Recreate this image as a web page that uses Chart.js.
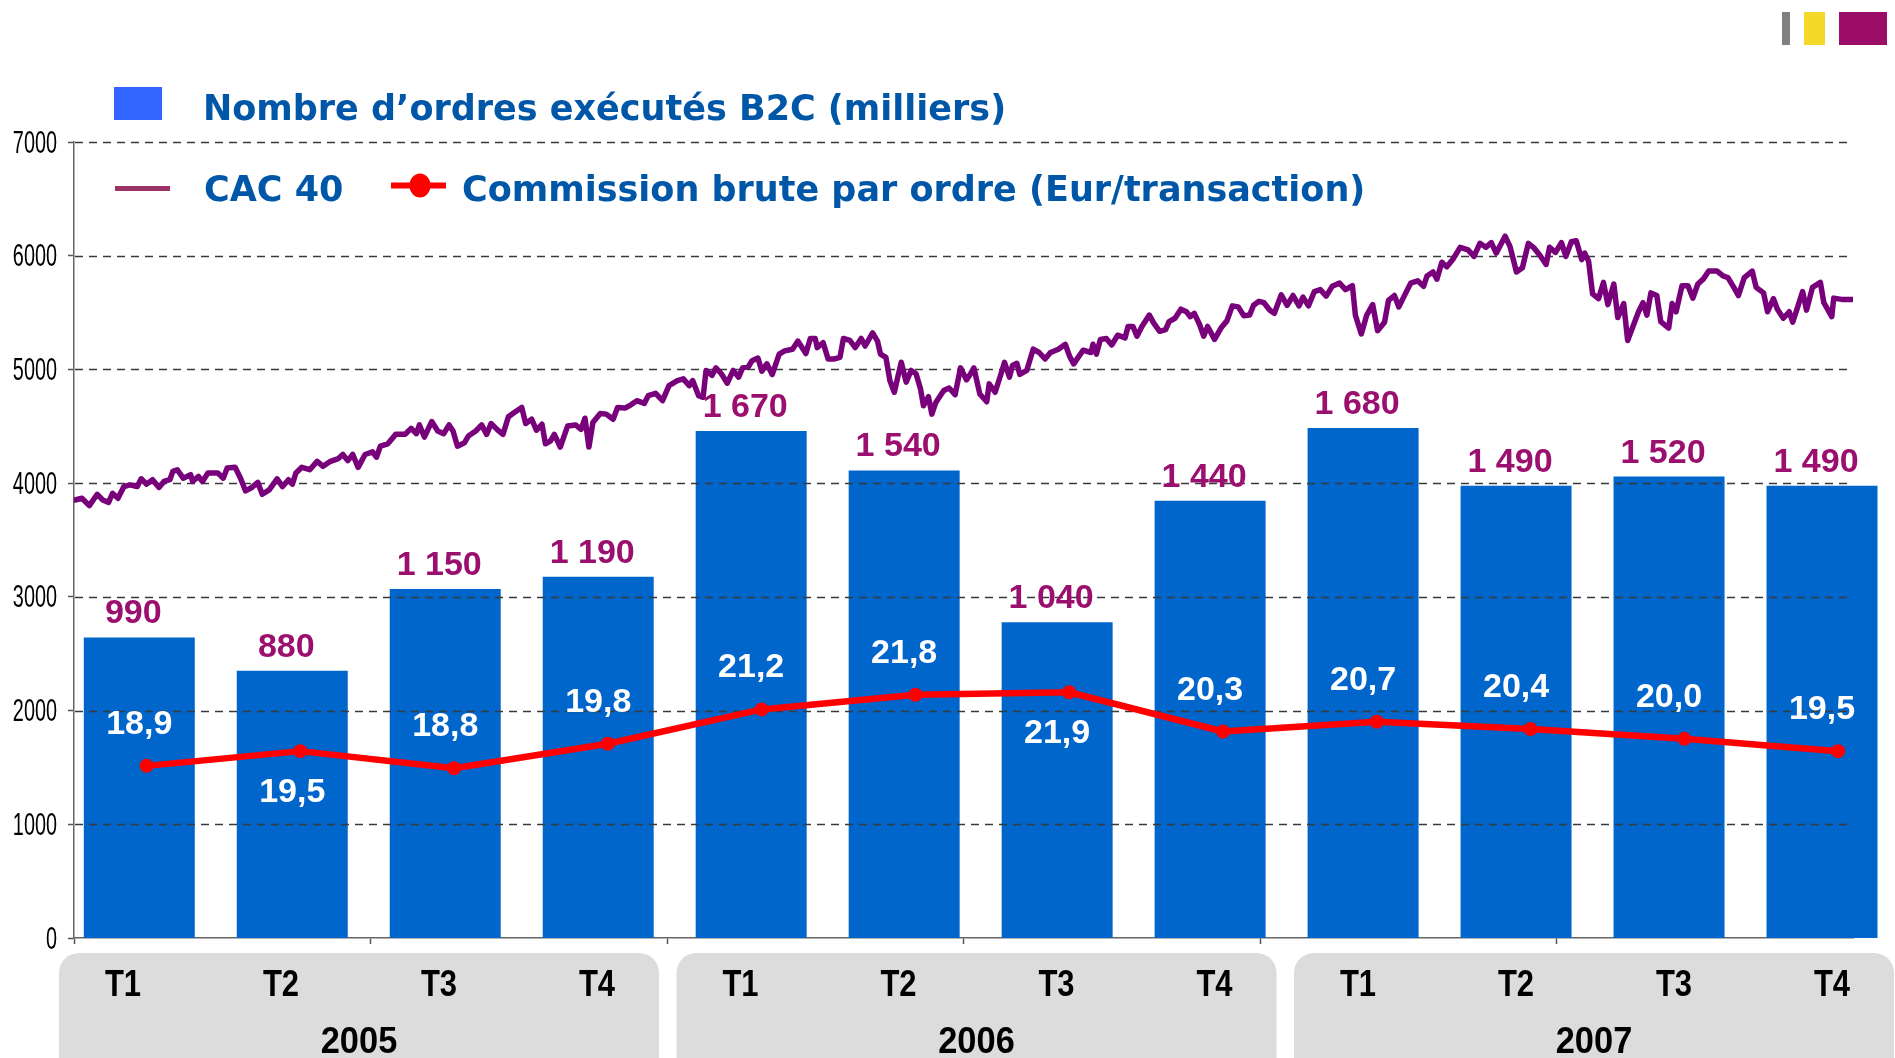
<!DOCTYPE html>
<html><head><meta charset="utf-8">
<script src="https://cdn.jsdelivr.net/npm/chart.js@4.4.1/dist/chart.umd.min.js"></script>
<style>html,body{margin:0;padding:0;background:#fff;overflow:hidden}canvas{display:block}</style>
</head><body>
<canvas id="c" width="1895" height="1058"></canvas>
<script>
// ---------- DATA ----------
const quarters = ['T1','T2','T3','T4','T1','T2','T3','T4','T1','T2','T3','T4'];
const years = ['2005','2006','2007'];
const orders = [990, 880, 1150, 1190, 1670, 1540, 1040, 1440, 1680, 1490, 1520, 1490];
const commission = [18.9, 19.5, 18.8, 19.8, 21.2, 21.8, 21.9, 20.3, 20.7, 20.4, 20.0, 19.5];
const legendLabels = ['Nombre d\u2019ordres exécutés B2C (milliers)', 'CAC 40', 'Commission brute par ordre (Eur/transaction)'];
const yTickValues = [0,1000,2000,3000,4000,5000,6000,7000];
const cacTickMonths = [0,6,12,18,24,30];
// CAC 40: months since Jan 2005, index level
const cacMonths = [0.02,0.16,0.31,0.47,0.58,0.70,0.78,0.89,1.01,1.13,1.28,1.36,1.47,1.59,1.72,1.82,1.94,2.00,2.09,2.21,2.36,2.40,2.52,2.60,2.71,2.91,3.02,3.10,3.26,3.37,3.47,3.60,3.72,3.81,3.95,4.11,4.22,4.34,4.42,4.49,4.61,4.77,4.92,5.04,5.19,5.35,5.44,5.54,5.64,5.75,5.89,6.04,6.12,6.20,6.35,6.51,6.70,6.82,6.93,6.99,7.09,7.24,7.36,7.48,7.59,7.67,7.76,7.90,7.98,8.13,8.25,8.35,8.44,8.56,8.68,8.79,8.91,9.06,9.14,9.26,9.36,9.47,9.54,9.64,9.72,9.84,9.99,10.15,10.26,10.34,10.42,10.50,10.65,10.77,10.91,11.00,11.15,11.27,11.39,11.54,11.62,11.77,11.91,12.04,
12.21,12.33,12.45,12.52,12.64,12.73,12.79,12.91,12.99,13.10,13.22,13.34,13.45,13.53,13.65,13.72,13.84,13.92,14.02,14.13,14.27,14.38,14.54,14.65,14.81,14.90,15.00,15.04,15.16,15.26,15.39,15.50,15.57,15.70,15.81,15.93,16.01,16.16,16.26,16.32,16.43,16.51,16.60,16.67,16.74,16.84,16.94,17.04,17.13,17.19,17.29,17.36,17.44,17.60,17.71,17.83,17.94,18.06,18.15,18.21,18.33,18.47,18.52,18.64,18.76,18.83,18.93,18.99,19.08,19.14,19.28,19.41,19.53,19.65,19.76,19.92,20.06,20.15,20.23,20.32,20.42,20.58,20.62,20.69,20.77,20.89,21.00,21.12,21.27,21.33,21.43,21.51,21.61,21.76,21.85,21.97,22.09,22.16,22.28,22.40,22.51,22.59,22.67,22.78,22.86,22.94,23.08,23.21,23.33,23.44,23.56,23.67,23.79,23.87,23.98,
24.08,24.20,24.29,24.43,24.55,24.67,24.79,24.87,24.98,25.10,25.22,25.34,25.46,25.61,25.73,25.87,25.93,26.05,26.16,26.28,26.38,26.52,26.60,26.72,26.81,26.95,27.05,27.19,27.31,27.38,27.50,27.58,27.68,27.78,27.90,28.05,28.21,28.33,28.45,28.57,28.68,28.78,28.96,29.06,29.19,29.31,29.43,29.55,29.67,29.79,29.86,29.98,30.10,30.19,30.30,30.40,30.51,30.57,30.65,30.73,30.85,30.95,31.04,31.16,31.24,31.36,31.44,31.56,31.66,31.75,31.83,31.91,32.03,32.11,32.27,32.34,32.42,32.54,32.66,32.76,32.86,32.97,33.08,33.25,33.37,33.47,33.60,33.68,33.80,33.96,34.04,34.19,34.27,34.39,34.47,34.59,34.71,34.78,34.86,34.98,35.06,35.18,35.34,35.41,35.57,35.61,35.77,35.99];
const cacValues = [3852,3867,3802,3902,3852,3831,3911,3867,3970,3985,3970,4038,3991,4030,3962,4015,4030,4104,4118,4044,4074,4015,4059,4015,4089,4089,4044,4133,4139,4044,3932,3962,4006,3902,3941,4038,3970,4030,3991,4089,4139,4118,4192,4148,4192,4216,4252,4198,4252,4139,4252,4275,4228,4325,4346,4429,4429,4482,4435,4512,4405,4542,4459,4435,4512,4459,4325,4355,4414,4459,4512,4429,4524,4473,4429,4583,4621,4666,4524,4562,4465,4518,4346,4370,4429,4317,4503,4512,4473,4571,4317,4533,4613,4607,4562,4666,4660,4689,4725,4701,4769,4790,4725,4858,
4902,4917,4858,4902,4769,4755,4991,4947,5014,4962,4879,4991,4932,5014,5026,5077,5100,4985,5049,4956,5135,5163,5178,5249,5140,5272,5272,5192,5235,5092,5092,5106,5272,5255,5192,5272,5206,5321,5249,5135,5106,4902,4799,4932,5063,4888,4991,4962,4829,4681,4760,4607,4710,4814,4837,4778,5014,4908,4967,5014,4784,4716,4873,4799,4962,5063,4932,5034,5054,4956,4991,5178,5149,5092,5149,5178,5221,5112,5049,5106,5169,5149,5221,5135,5264,5272,5215,5301,5278,5378,5378,5292,5378,5478,5407,5335,5350,5421,5450,5530,5507,5464,5493,5393,5292,5378,5264,5364,5427,5559,5550,5473,5478,5564,5599,
5587,5521,5493,5656,5564,5650,5559,5636,5559,5685,5702,5645,5731,5759,5702,5736,5478,5312,5478,5570,5341,5415,5607,5650,5550,5673,5759,5779,5731,5822,5857,5794,5943,5902,5966,6074,6052,5994,6109,6074,6115,6023,6172,6080,5857,5894,6109,6066,6000,5923,6074,6029,6115,5994,6123,6132,5966,6023,5951,5665,5622,5765,5570,5751,5456,5579,5255,5393,5507,5587,5478,5673,5650,5421,5364,5579,5507,5736,5736,5627,5751,5794,5865,5865,5822,5808,5713,5650,5808,5865,5722,5673,5507,5622,5530,5450,5507,5415,5521,5685,5521,5722,5765,5587,5464,5627,5616,5616];

const fmtOrders = v => v >= 1000 ? Math.floor(v / 1000) + ' ' + String(v % 1000).padStart(3, '0') : String(v);
const fmtComm = v => v.toFixed(1).replace('.', ',');

// ---------- DRAWING HELPERS ----------
function squeezeText(ctx, text, x, y, sx, align) {
  ctx.save();
  ctx.translate(x, y);
  ctx.scale(sx, 1);
  ctx.textAlign = align || 'center';
  ctx.fillText(text, 0, 0);
  ctx.restore();
}
const BOX_LEFT = 59, BOX_STEP = 617.5, BOX_W = 600;

const deco = {
  id: 'deco',
  beforeDraw(chart) {
    const ctx = chart.ctx;
    ctx.save();
    ctx.fillStyle = '#ffffff';
    ctx.fillRect(0, 0, chart.width, chart.height);
    ctx.fillStyle = '#808080'; ctx.fillRect(1782, 12, 8, 33);
    ctx.fillStyle = '#F5D92A'; ctx.fillRect(1804, 12, 21, 33);
    ctx.fillStyle = '#9C0D68'; ctx.fillRect(1839, 12, 48, 33);
    ctx.fillStyle = '#3366FF'; ctx.fillRect(114, 87, 48, 33);
    ctx.fillStyle = '#993366'; ctx.fillRect(115, 186, 55, 5);
    ctx.fillStyle = '#FF0000'; ctx.fillRect(391, 182.5, 55, 6);
    ctx.beginPath(); ctx.ellipse(420, 185.5, 10.5, 12, 0, 0, Math.PI * 2); ctx.fill();
    ctx.fillStyle = '#0057A8';
    ctx.font = 'bold 35px "DejaVu Sans"';
    ctx.textAlign = 'left'; ctx.textBaseline = 'alphabetic';
    ctx.fillText(legendLabels[0], 203, 120);
    ctx.fillText(legendLabels[1], 204, 201);
    ctx.fillText(legendLabels[2], 462, 201);
    ctx.fillStyle = '#DCDCDC';
    for (let i = 0; i < years.length; i++) {
      ctx.beginPath();
      ctx.roundRect(BOX_LEFT + i * BOX_STEP, 953, BOX_W, 140, 20);
      ctx.fill();
    }
    ctx.restore();
  },
  afterDatasetDraw(chart, args) {
    if (args.index !== 0) return;
    const ctx = chart.ctx, y = chart.scales.y, a = chart.chartArea;
    ctx.save();
    ctx.strokeStyle = '#3a3a3a';
    ctx.lineWidth = 1.3;
    ctx.setLineDash([8, 6]);
    y.ticks.forEach(t => {
      if (t.value === 0) return;
      const py = Math.round(y.getPixelForValue(t.value)) + 0.5;
      ctx.beginPath(); ctx.moveTo(a.left + 1, py); ctx.lineTo(a.right - 4, py); ctx.stroke();
    });
    ctx.restore();
  },
  afterDraw(chart) {
    const ctx = chart.ctx, s = chart.scales;
    ctx.save();
    ctx.textBaseline = 'alphabetic';
    ctx.fillStyle = '#000';
    ctx.font = '32px "Liberation Sans"';
    s.y.ticks.forEach(t => {
      squeezeText(ctx, String(t.value), 57, s.y.getPixelForValue(t.value) + 10.5, 0.62, 'right');
    });
    ctx.fillStyle = '#9B0F6E';
    ctx.font = 'bold 34px "Liberation Sans"';
    orders.forEach((v, i) => {
      squeezeText(ctx, fmtOrders(v), s.xb.getPixelForValue(i) - 6, s.yb.getPixelForValue(v) - 14, 1);
    });
    ctx.fillStyle = '#ffffff';
    const below = new Set([1, 6]);
    commission.forEach((v, i) => {
      const py = s.yl.getPixelForValue(v);
      const ty = below.has(i) ? py + 51 : py - 32;
      squeezeText(ctx, fmtComm(v), s.xb.getPixelForValue(i), ty, 1);
    });
    ctx.fillStyle = '#000';
    ctx.font = 'bold 36px "Liberation Sans"';
    quarters.forEach((q, i) => {
      const box = Math.floor(i / 4), j = i % 4;
      squeezeText(ctx, q, BOX_LEFT + box * BOX_STEP + 64 + j * 158, 996, 0.86);
    });
    ctx.font = 'bold 37px "Liberation Sans"';
    years.forEach((yr, i) => {
      squeezeText(ctx, yr, BOX_LEFT + i * BOX_STEP + BOX_W / 2, 1053, 0.93);
    });
    ctx.restore();
  }
};

new Chart(document.getElementById('c'), {
  type: 'bar',
  data: {
    datasets: [
      {
        type: 'bar', label: legendLabels[0],
        data: orders.map((v, i) => ({ x: i, y: v })),
        xAxisID: 'xb', yAxisID: 'yb',
        backgroundColor: '#0066CC', borderWidth: 0,
        grouped: false,
        barPercentage: 0.7255, categoryPercentage: 1.0,
        clip: false, order: 3
      },
      {
        type: 'line', label: legendLabels[1],
        data: cacMonths.map((m, i) => ({ x: m, y: cacValues[i] })),
        xAxisID: 'xc', yAxisID: 'y',
        borderColor: '#78007A', borderWidth: 5.5, pointRadius: 0,
        borderJoinStyle: 'round', borderCapStyle: 'round', tension: 0,
        fill: false, order: 2
      },
      {
        type: 'line', label: legendLabels[2],
        data: commission.map((v, i) => ({ x: i, y: v })),
        xAxisID: 'xl', yAxisID: 'yl',
        borderColor: '#FF0000', borderWidth: 6.5,
        pointRadius: 7, pointBackgroundColor: '#FF0000', pointBorderWidth: 0,
        borderJoinStyle: 'round', tension: 0, fill: false, order: 1
      }
    ]
  },
  options: {
    responsive: false,
    devicePixelRatio: 1,
    animation: false,
    layout: { padding: { left: 0, right: 42, top: 142, bottom: 112 } },
    plugins: { legend: { display: false }, tooltip: { enabled: false } },
    scales: {
      y: {
        axis: 'y', type: 'linear', position: 'left', min: 0, max: 7000,
        afterBuildTicks: sc => { sc.ticks = yTickValues.map(v => ({ value: v })); },
        ticks: { display: false },
        grid: { drawOnChartArea: false, drawTicks: true, tickLength: 6, tickColor: '#555', tickWidth: 1.5 },
        border: { display: true, color: '#666', width: 1.5 },
        afterFit: sc => { sc.width = 74; }
      },
      xc: {
        axis: 'x', type: 'linear', position: 'bottom', min: 0, max: 36, offset: false,
        afterBuildTicks: sc => { sc.ticks = cacTickMonths.map(v => ({ value: v })); },
        ticks: { display: false },
        grid: { offset: false, drawOnChartArea: false, drawTicks: true, tickLength: 6, tickColor: '#555', tickWidth: 1.5 },
        border: { display: true, color: '#666', width: 1.5 },
        afterFit: sc => { sc.height = 8; }
      },
      xb: {
        axis: 'x', type: 'linear', display: false, offset: false, grid: { offset: false },
        min: -0.4268, max: 11.2026,
        afterBuildTicks: sc => { sc.ticks = quarters.map((q, i) => ({ value: i })); }
      },
      xl: { axis: 'x', type: 'linear', display: false, offset: false, grid: { offset: false }, min: -0.4714, max: 11.097 },
      yb: { axis: 'y', type: 'linear', display: false, min: 0, max: 2622 },
      yl: { axis: 'y', type: 'linear', display: false, min: 11.886, max: 44.32 }
    }
  },
  plugins: [deco]
});
</script>
</body></html>
